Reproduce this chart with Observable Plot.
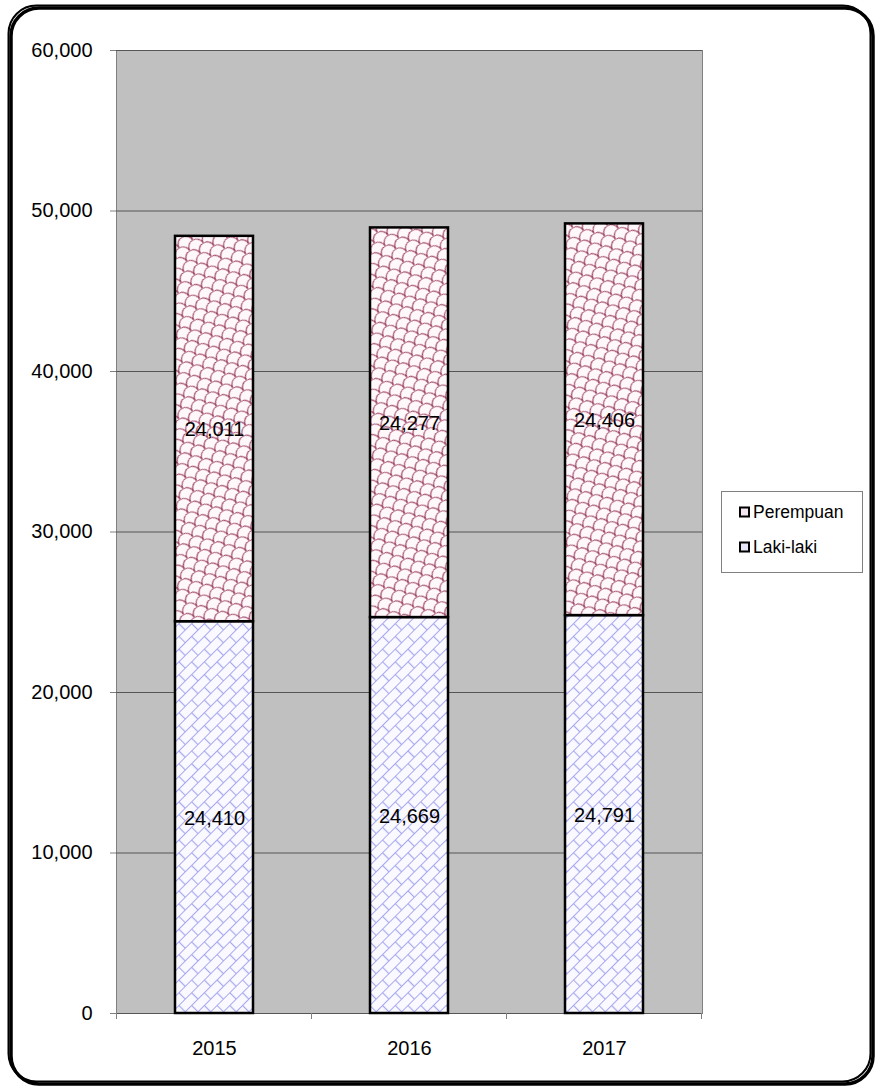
<!DOCTYPE html>
<html>
<head>
<meta charset="utf-8">
<script src="https://cdn.jsdelivr.net/npm/d3@7"></script>
<script src="https://cdn.jsdelivr.net/npm/@observablehq/plot@0.6"></script>
<style>
  html, body { margin: 0; padding: 0; background: #fff; }
  #chart { width: 880px; height: 1089px; }
</style>
</head>
<body>
<div id="chart"></div>
<script>
const years = ["2015", "2016", "2017"];
const lakiLaki = [24410, 24669, 24791];
const perempuan = [24011, 24277, 24406];
const seriesNames = ["Laki-laki", "Perempuan"];
const yTicks = [0, 10000, 20000, 30000, 40000, 50000, 60000];

const rows = [];
years.forEach((yr, i) => {
  rows.push({year: yr, sex: seriesNames[0], value: lakiLaki[i]});
  rows.push({year: yr, sex: seriesNames[1], value: perempuan[i]});
});

const fmt = d3.format(",");
const font = "'Liberation Sans', Arial, sans-serif";

const plot = Plot.plot({
  width: 880,
  height: 1089,
  marginLeft: 116,
  marginRight: 178,
  marginTop: 50,
  marginBottom: 76,
  style: {fontFamily: font, fontSize: "20px", color: "#000", background: "transparent"},
  x: {domain: years, paddingInner: 0.6, paddingOuter: 0.3, label: null},
  y: {domain: [0, 60000], label: null},
  color: {domain: seriesNames, range: ["url(#patLaki)", "url(#patPerempuan)"]},
  marks: [
    Plot.frame({fill: "#c0c0c0", stroke: "#808080", strokeWidth: 1}),
    Plot.ruleY(yTicks, {stroke: "#555", strokeWidth: 1}),
    Plot.axisY({ticks: yTicks, tickFormat: d => fmt(d), tickSize: 6, tickPadding: 18, stroke: "#808080", fontSize: 20}),
    Plot.axisX({tickSize: 0, tickPadding: 27, fontSize: 20}),
    Plot.barY(rows, Plot.stackY({x: "year", y: "value", fill: "sex", stroke: "#000", strokeWidth: 2.5})),
    Plot.text(rows, Plot.stackY({x: "year", y: "value", text: d => fmt(d.value), fill: "#000", fontSize: 20, dy: 1}))
  ]
});

const svg = d3.select(plot);
svg.attr("width", 880).attr("height", 1089);

// pattern definitions
const defs = svg.insert("defs", ":first-child");
const pl = defs.append("pattern")
  .attr("id", "patLaki").attr("patternUnits", "userSpaceOnUse")
  .attr("width", 18).attr("height", 18)
  .attr("patternTransform", "rotate(-45)");
pl.append("rect").attr("width", 18).attr("height", 18).attr("fill", "#f9f9ff");
pl.append("path")
  .attr("d", "M0,0.5H18M0,9.5H18M0.5,0V9M9.5,9V18")
  .attr("stroke", "#a8a8f0").attr("stroke-width", 1.2).attr("fill", "none");

const pp = defs.append("pattern")
  .attr("id", "patPerempuan").attr("patternUnits", "userSpaceOnUse")
  .attr("width", 12).attr("height", 12)
  .attr("patternTransform", "rotate(-30) scale(1.3)");
pp.append("rect").attr("width", 12).attr("height", 12).attr("fill", "#fff8fb");
pp.append("path")
  .attr("d", "M0,6 A6,6 0 0 1 12,6 M-6,12 A6,6 0 0 1 6,12 M6,12 A6,6 0 0 1 18,12 M-6,0 A6,6 0 0 1 6,0 M6,0 A6,6 0 0 1 18,0")
  .attr("stroke", "#a04a6a").attr("stroke-width", 0.9).attr("fill", "none");

// x-axis boundary ticks
const xs = plot.scale("x");
const step = xs.step;
const bw = xs.bandwidth;
const bottomY = 1089 - 76;
const bounds = years.map(y => xs.apply(y) - (step - bw) / 2);
bounds.push(bounds[bounds.length - 1] + step);
svg.append("g").selectAll("line").data(bounds).join("line")
  .attr("x1", d => d).attr("x2", d => d)
  .attr("y1", bottomY).attr("y2", bottomY + 6)
  .attr("stroke", "#808080");

// legend
const lg = svg.append("g").attr("font-family", font).attr("font-size", 17.5).attr("text-anchor", "start");
lg.append("rect").attr("x", 721.5).attr("y", 491.5).attr("width", 141).attr("height", 81)
  .attr("fill", "#fff").attr("stroke", "#808080");
const legendItems = [
  {name: seriesNames[1], swatch: "#f3e6ee", y: 512},
  {name: seriesNames[0], swatch: "#e6e6f8", y: 547}
];
legendItems.forEach(it => {
  lg.append("rect").attr("x", 740).attr("y", it.y - 4.5).attr("width", 9).attr("height", 9)
    .attr("fill", it.swatch).attr("stroke", "#000").attr("stroke-width", 2);
  lg.append("text").attr("x", 753).attr("y", it.y).attr("dy", "0.35em")
    .attr("text-anchor", "start").text(it.name);
});

// outer rounded border
svg.append("rect").attr("x", 11).attr("y", 8).attr("width", 862).attr("height", 1076)
  .attr("rx", 28).attr("fill", "none").attr("stroke", "#000").attr("stroke-width", 3.5);
svg.append("rect").attr("x", 8.5).attr("y", 5.5).attr("width", 862).attr("height", 1076)
  .attr("rx", 28).attr("fill", "none").attr("stroke", "#000").attr("stroke-width", 2);

document.getElementById("chart").appendChild(plot);
</script>
</body>
</html>
